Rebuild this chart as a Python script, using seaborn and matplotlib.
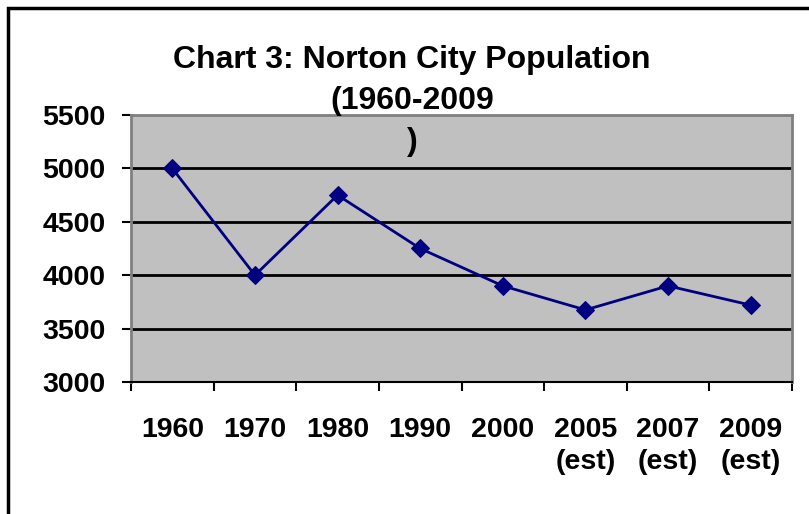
import matplotlib
matplotlib.use("Agg")
import matplotlib.pyplot as plt
import seaborn as sns
import pandas as pd
import numpy as np
from matplotlib.patches import Rectangle

# data
years = ["1960", "1970", "1980", "1990", "2000", "2005\n(est)", "2007\n(est)", "2009\n(est)"]
population = [5000, 4000, 4750, 4250, 3900, 3675, 3900, 3720]
yticks = [3000, 3500, 4000, 4500, 5000, 5500]

sns.set_style("white")
plt.rcParams['font.family'] = ['Liberation Sans', 'DejaVu Sans']
plt.rcParams['font.weight'] = 'bold'
plt.rcParams['text.color'] = 'black'
plt.rcParams['xtick.color'] = 'black'
plt.rcParams['ytick.color'] = 'black'

df = pd.DataFrame({'pos': np.arange(len(years)), 'pop': population})

fig = plt.figure(figsize=(8.09, 5.14), dpi=100)
fig.patch.set_facecolor('white')
ax = fig.add_axes([131/809, 1-382/514, (792-131)/809, (382-115)/514])
ax.set_facecolor('#C0C0C0')

for v in yticks[1:-1]:
    ax.axhline(v, color='black', lw=2, zorder=1)

sns.lineplot(data=df, x='pos', y='pop', ax=ax, color='#000080', lw=2,
             marker='D', markersize=9, markeredgecolor='#000080', zorder=3)

ax.set_xlim(-0.5, len(years) - 0.5)
ax.set_ylim(yticks[0], yticks[-1])
ax.set_yticks(yticks)
ax.set_yticklabels([str(v) for v in yticks], fontsize=20.5, fontweight='bold')
ax.set_xticks(np.arange(-0.5, len(years), 1.0))
ax.set_xticklabels([])
ax.set_xticks(np.arange(len(years)), minor=True)
ax.set_xticklabels(years, minor=True, fontsize=20.5, fontweight='bold', linespacing=1.3)
ax.tick_params(axis='x', which='major', direction='out', length=6.5, width=1.5, color='black', bottom=True)
ax.tick_params(axis='x', which='minor', length=0, pad=25, bottom=True)
ax.tick_params(axis='y', direction='out', length=6.5, width=1.5, color='black', pad=12, left=True)
ax.set_xlabel('')
ax.set_ylabel('')

for side in ['top', 'right', 'left']:
    ax.spines[side].set_color('#808080')
    ax.spines[side].set_linewidth(2)
ax.spines['bottom'].set_color('black')
ax.spines['bottom'].set_linewidth(1.5)

fig.text(412/809, 1-45/514, "Chart 3: Norton City Population\n(1960-2009\n)",
         ha='center', va='top', fontsize=23, fontweight='bold', linespacing=1.47)

# outer chart frame
fig.patches.append(Rectangle((8/809, -0.1), 1.2, 1-8/514+0.1, transform=fig.transFigure,
                             fill=False, edgecolor='black', lw=2.5))

fig.savefig("out.png", dpi=100)
